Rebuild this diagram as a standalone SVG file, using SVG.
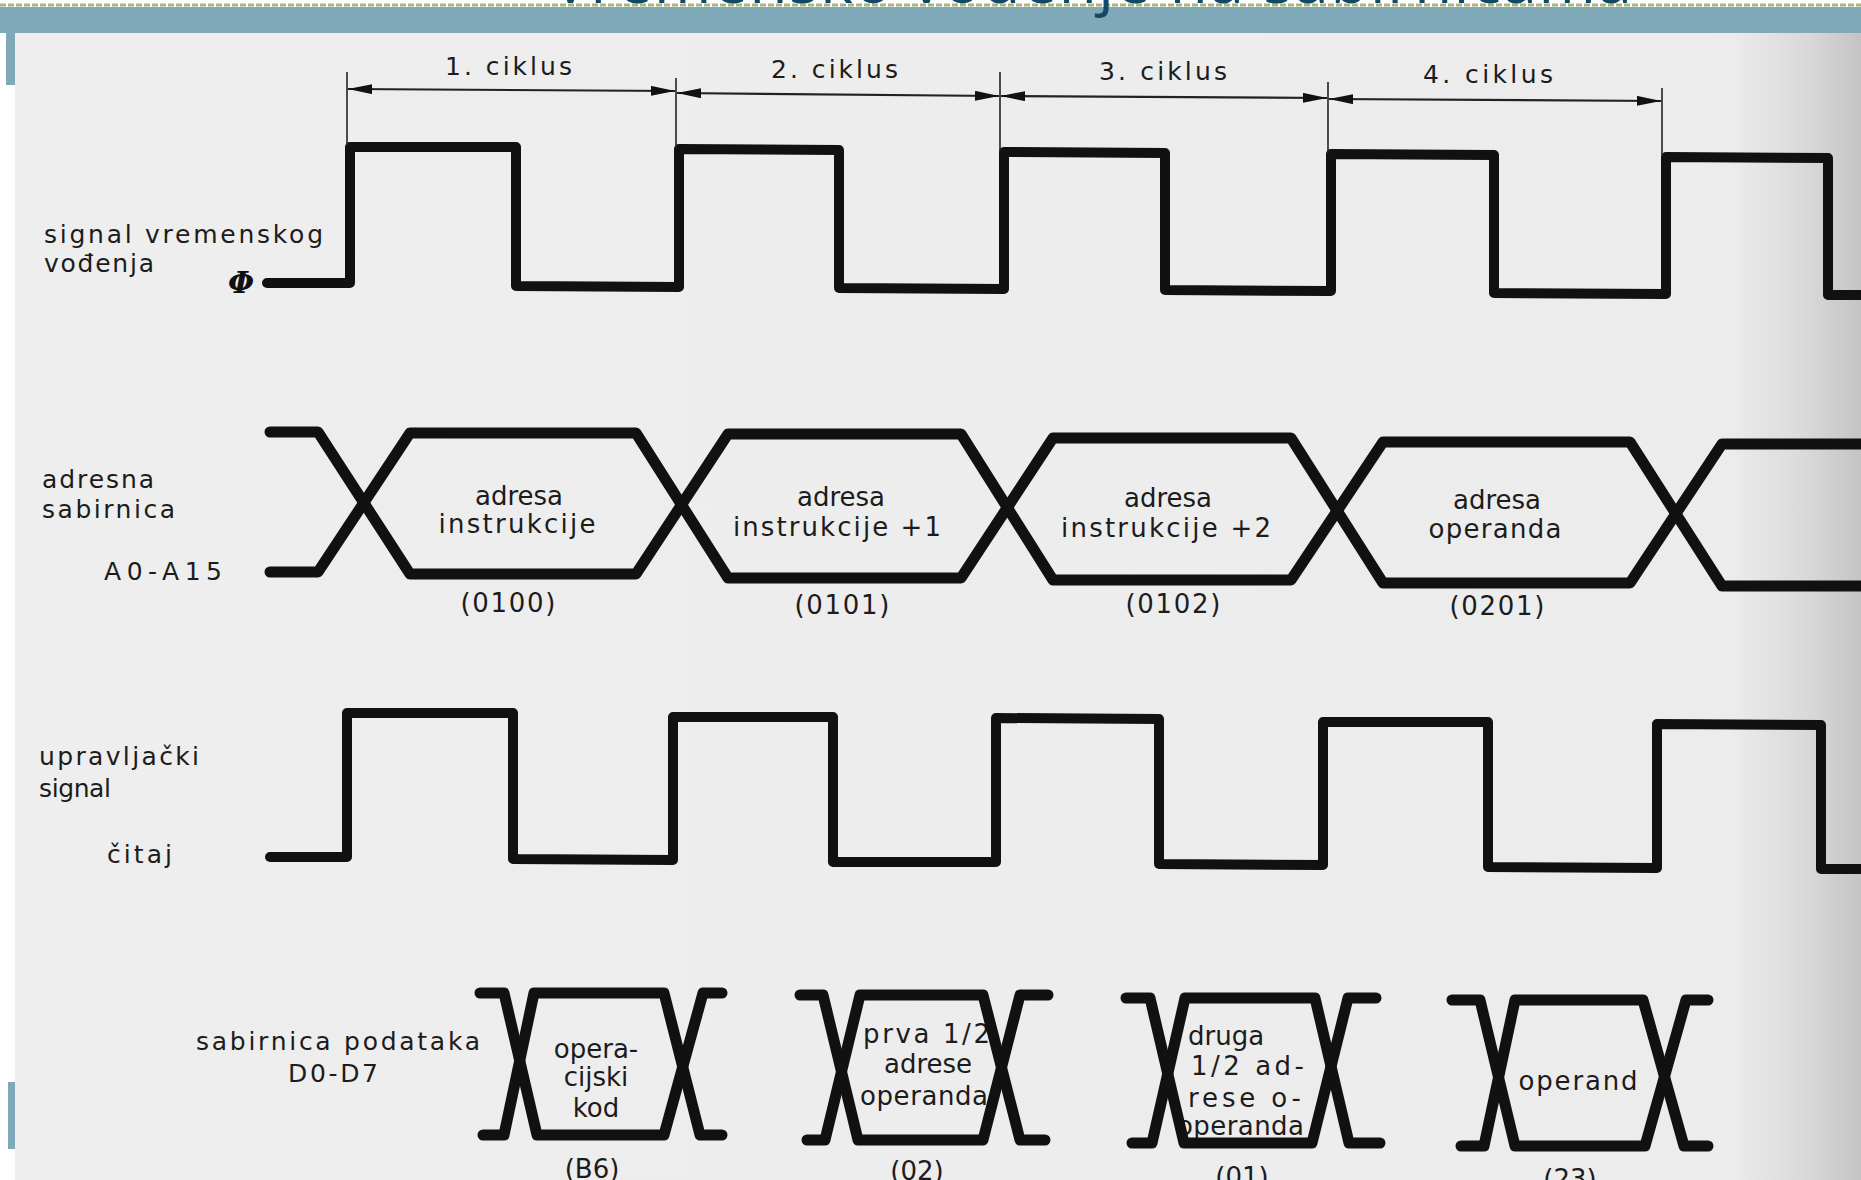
<svg xmlns="http://www.w3.org/2000/svg" width="1861" height="1180" viewBox="0 0 1861 1180">
<defs>
<style>
.lbl{font-family:"DejaVu Sans",sans-serif;font-size:25px;fill:#1c1c1c}
.txt{font-family:"DejaVu Sans",sans-serif;font-size:26px;fill:#1c1c1c}
.mid{text-anchor:middle}
.sig{fill:none;stroke:#111;stroke-width:10;stroke-linejoin:round;stroke-linecap:round}
.bus{fill:none;stroke:#111;stroke-width:11;stroke-linejoin:round;stroke-linecap:round}
.tick{stroke:#222;stroke-width:1.6;fill:none}
.arr{stroke:#222;stroke-width:2.2;fill:none;marker-start:url(#ah);marker-end:url(#ah)}
</style>
<marker id="ah" viewBox="0 0 24 10" refX="24" refY="5" markerWidth="24" markerHeight="10" markerUnits="userSpaceOnUse" orient="auto-start-reverse">
<path d="M0,0 L24,5 L0,10 Z" fill="#111"/>
</marker>
<linearGradient id="paper" x1="0" y1="0" x2="1" y2="0">
<stop offset="0" stop-color="#eeeeee"/>
<stop offset="0.93" stop-color="#ececec"/>
<stop offset="0.97" stop-color="#d9d9d9"/>
<stop offset="1" stop-color="#c4c4c4"/>
</linearGradient>
</defs>

<g id="background">
<rect x="0" y="0" width="1861" height="1180" fill="#ffffff"/>
<rect x="15" y="33" width="1846" height="1147" fill="url(#paper)"/>
</g>

<g id="header">
<line x1="0" y1="5" x2="1861" y2="5" stroke="#a9b57f" stroke-width="3" stroke-dasharray="6,2"/>
<rect x="0" y="7" width="1861" height="26" fill="#7fa8b8"/>
<rect x="6" y="33" width="9" height="52" fill="#7fa8b8"/>
<rect x="8" y="1082" width="7" height="67" fill="#7fa8b8"/>
<text x="552" y="3" textLength="1080" style="font-family:'Open Sans',sans-serif;font-size:62px;fill:#124a66">Vremensko vođenje na sabirnicama</text>
</g>

<g id="clock">
<text class="lbl" x="44" y="243" textLength="279">signal vremenskog</text>
<text class="lbl" x="44" y="272" textLength="110">vođenja</text>
<text x="228" y="293" style="font-family:'DejaVu Serif',serif;font-size:30px;font-weight:bold;font-style:italic;fill:#111">Φ</text>
<path class="sig" d="M267,283 L350,283 L350,147 L516,147 L516,286 L679,287 L679,149 L839,150 L839,288 L1004,289 L1004,152 L1165,153 L1165,290 L1331,291 L1331,154 L1494,155 L1494,293 L1666,294 L1666,157 L1828,158 L1828,295 L1870,295"/>
</g>

<g id="connectors">
<line class="tick" x1="347" y1="72" x2="347" y2="146"/>
<line class="tick" x1="676" y1="78" x2="676" y2="148"/>
<line class="tick" x1="1000" y1="72" x2="1000" y2="151"/>
<line class="tick" x1="1328" y1="82" x2="1328" y2="153"/>
<line class="tick" x1="1662" y1="88" x2="1662" y2="156"/>
<line class="arr" x1="348" y1="89" x2="675" y2="91"/>
<line class="arr" x1="677" y1="93" x2="999" y2="96"/>
<line class="arr" x1="1001" y1="96" x2="1327" y2="98"/>
<line class="arr" x1="1329" y1="99" x2="1661" y2="101"/>
</g>

<g id="cycle-labels">
<text class="lbl" x="445" y="75" textLength="127">1. ciklus</text>
<text class="lbl" x="771" y="78" textLength="127">2. ciklus</text>
<text class="lbl" x="1099" y="80" textLength="128">3. ciklus</text>
<text class="lbl" x="1423" y="83" textLength="130">4. ciklus</text>
</g>

<g id="address-bus">
<text class="lbl" x="42" y="488" textLength="112">adresna</text>
<text class="lbl" x="42" y="518" textLength="133">sabirnica</text>
<text class="lbl" x="104" y="580" textLength="118">A0-A15</text>
<path class="bus" d="M270,432 L318,432 L410,574 L636,574 L728,434 L961,434 L1053,580 L1291,580 L1383,442 L1630,442 L1722,586 L1870,586"/>
<path class="bus" d="M270,572 L318,572 L410,433 L636,433 L728,578 L961,578 L1053,438 L1291,438 L1383,583 L1630,583 L1722,444 L1870,444"/>
<text class="txt mid" x="519" y="505">adresa</text>
<text class="txt mid" x="517" y="533" textLength="157">instrukcije</text>
<text class="txt mid" x="508" y="612" textLength="95">(0100)</text>
<text class="txt mid" x="841" y="506">adresa</text>
<text class="txt mid" x="837" y="536" textLength="208">instrukcije +1</text>
<text class="txt mid" x="842" y="614" textLength="95">(0101)</text>
<text class="txt mid" x="1168" y="507">adresa</text>
<text class="txt mid" x="1166" y="537" textLength="210">instrukcije +2</text>
<text class="txt mid" x="1173" y="613" textLength="95">(0102)</text>
<text class="txt mid" x="1497" y="509">adresa</text>
<text class="txt mid" x="1495" y="538" textLength="133">operanda</text>
<text class="txt mid" x="1497" y="615" textLength="95">(0201)</text>
</g>

<g id="control-signal">
<text class="lbl" x="39" y="765" textLength="160">upravljački</text>
<text class="lbl" x="39" y="797" textLength="72">signal</text>
<text class="lbl" x="107" y="863" textLength="65">čitaj</text>
<path class="sig" d="M270,857 L347,857 L347,713 L513,713 L513,859 L673,860 L673,717 L833,717 L833,862 L996,862 L996,718 L1159,719 L1159,864 L1323,865 L1323,722 L1488,722 L1488,867 L1657,868 L1657,724 L1821,725 L1821,869 L1870,869"/>
</g>

<g id="data-bus">
<text class="lbl" x="196" y="1050" textLength="284">sabirnica podataka</text>
<text class="lbl" x="288" y="1082" textLength="90">D0-D7</text>

<g id="data-1">
<text class="txt mid" x="596" y="1058">opera-</text>
<text class="txt mid" x="596" y="1086">cijski</text>
<text class="txt mid" x="596" y="1117">kod</text>
<text class="txt mid" x="592" y="1178">(B6)</text>
<path class="bus" d="M480,993 L504,993 L537,1135 L664,1135 L703,993 L722,993"/>
<path class="bus" d="M483,1135 L504,1135 L534,993 L664,993 L700,1135 L722,1135"/>
</g>

<g id="data-2">
<text class="txt" x="863" y="1043" textLength="127">prva 1/2</text>
<text class="txt mid" x="928" y="1073">adrese</text>
<text class="txt" x="860" y="1105" textLength="128">operanda</text>
<text class="txt mid" x="917" y="1180">(02)</text>
<path class="bus" d="M800,995 L823,995 L858,1140 L983,1140 L1020,995 L1048,995"/>
<path class="bus" d="M807,1140 L825,1140 L860,995 L983,995 L1020,1140 L1045,1140"/>
</g>

<g id="data-3">
<text class="txt" x="1188" y="1045">druga</text>
<text class="txt" x="1191" y="1075" textLength="113">1/2 ad-</text>
<text class="txt" x="1188" y="1107" textLength="113">rese o-</text>
<text class="txt" x="1177" y="1135" textLength="127">operanda</text>
<text class="txt mid" x="1242" y="1186">(01)</text>
<path class="bus" d="M1126,998 L1150,998 L1184,1143 L1312,1143 L1348,998 L1376,998"/>
<path class="bus" d="M1132,1143 L1152,1143 L1185,998 L1315,998 L1349,1143 L1380,1143"/>
</g>

<g id="data-4">
<text class="txt mid" x="1578" y="1090" textLength="119">operand</text>
<text class="txt mid" x="1570" y="1188">(23)</text>
<path class="bus" d="M1452,1000 L1480,1000 L1515,1146 L1645,1146 L1686,1000 L1708,1000"/>
<path class="bus" d="M1461,1146 L1484,1146 L1515,1000 L1643,1000 L1684,1146 L1708,1146"/>
</g>
</g>
</svg>
